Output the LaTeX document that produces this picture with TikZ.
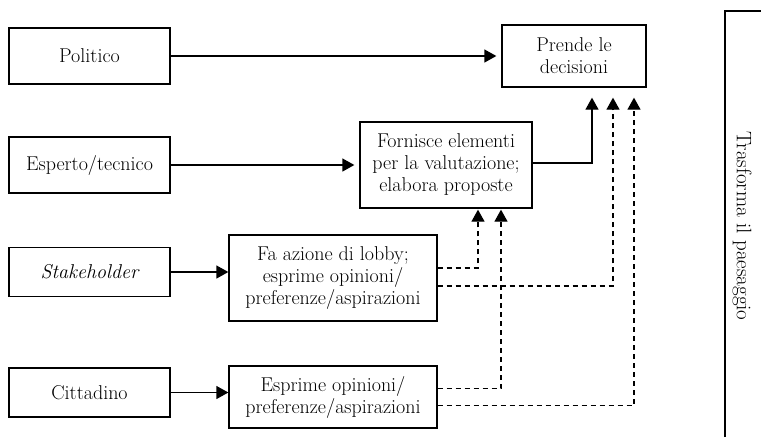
\documentclass[tikz,border=0pt]{standalone}
\usetikzlibrary{arrows.meta,calc}
\begin{document}
\begin{tikzpicture}[x=1pt,y=-1pt,
  box/.style={draw,line width=1.3pt,inner sep=0pt,align=center,
    font=\fontsize{20}{22}\selectfont},
  link/.style={line width=1.3pt,-{Triangle[width=13pt,length=12pt]}},
  dlink/.style={link,dash pattern=on 5pt off 4pt}]
\useasboundingbox (0,0) rectangle (761,440);

% actors
\node[box,minimum width=161pt,minimum height=56pt] (pol) at (89.5,56) {Politico};
\node[box,minimum width=161pt,minimum height=56pt] (esp) at (89.5,165) {Esperto/tecnico};
\node[box,minimum width=161pt,minimum height=49pt] (stk) at (89.5,272) {\itshape Stakeholder};
\node[box,minimum width=161pt,minimum height=49pt] (cit) at (89.5,392.5) {Cittadino};

% roles
\node[box,minimum width=144pt,minimum height=62pt] (pre) at (574,56) {Prende le\\decisioni};
\node[box,minimum width=172pt,minimum height=86pt] (frn) at (446,165) {Fornisce elementi\\per la valutazione;\\elabora proposte};
\node[box,minimum width=208pt,minimum height=86pt] (fa) at (333,278) {Fa azione di lobby;\\esprime opinioni/\\preferenze/aspirazioni};
\node[box,minimum width=208pt,minimum height=62pt] (exm) at (333,397) {Esprime opinioni/\\preferenze/aspirazioni};

% columns of the vertical connectors
\coordinate (k1) at (478,0);
\coordinate (k2) at (501,0);
\coordinate (k3) at (592,0);
\coordinate (k4) at (613,0);
\coordinate (k5) at (634,0);

% direct links
\draw[link,shorten >=5pt] (pol.east) -- (pol.east -| pre.west);
\draw[link,shorten >=5pt] (esp.east) -- (esp.east -| frn.west);
\draw[link] (stk.east) -- (stk.east -| fa.west);
\draw[link] (cit.east) -- (cit.east -| exm.west);
\draw[link,shorten >=10pt] ([yshift=2pt]frn.east) -| (pre.south -| k3);

% indirect influence
\draw[dlink,shorten >=1pt] ([yshift=10pt]fa.east) -| (frn.south -| k1);
\draw[dlink,shorten >=10pt] ([yshift=-8pt]fa.east) -| (pre.south -| k4);
\draw[dlink,shorten >=1pt] ([yshift=8.5pt]exm.east) -| (frn.south -| k2);
\draw[dlink,shorten >=10pt] ([yshift=-8.5pt]exm.east) -| (pre.south -| k5);

% landscape frame
\coordinate (lb) at (725,437);
\coordinate (lt) at (725,11);
\coordinate (rt) at (761,11);
\draw[line width=1.3pt] (lb) -- (lt) -- (rt);
\node[rotate=-90,font=\fontsize{21}{24}\selectfont] (tp) at (742,226) {Trasforma il paesaggio};
\end{tikzpicture}
\end{document}
